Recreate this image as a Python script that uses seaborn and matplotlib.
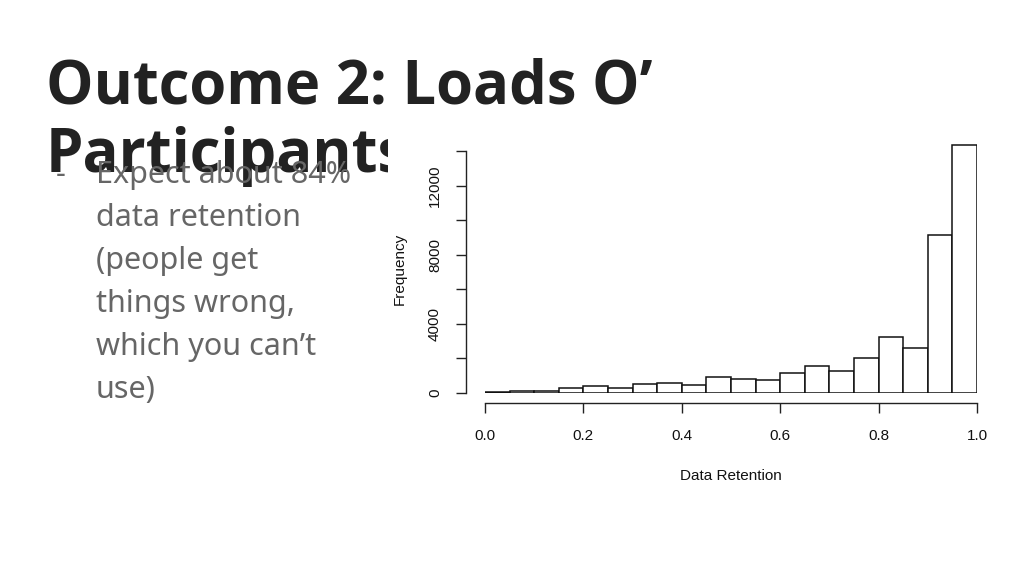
import numpy as np
import pandas as pd
import matplotlib
matplotlib.use("Agg")
import matplotlib.pyplot as plt
from matplotlib.patches import Rectangle
import seaborn as sns

# -----------------------------
# Data
# -----------------------------
bin_edges = [round(0.05 * i, 2) for i in range(21)]
bin_counts = [40, 115, 115, 270, 385, 270, 540, 595, 480, 920,
              825, 730, 1130, 1555, 1285, 2000, 3265, 2575, 9120, 14360]
y_ticks = [0, 2000, 4000, 6000, 8000, 10000, 12000, 14000]
y_tick_labels = ["0", "", "4000", "", "8000", "", "12000", ""]
x_ticks = [0.0, 0.2, 0.4, 0.6, 0.8, 1.0]
x_tick_labels = ["0.0", "0.2", "0.4", "0.6", "0.8", "1.0"]

title_lines = ["Outcome 2: Loads O\u2019", "Participants"]
bullet_lines = ["Expect about 84%", "data retention", "(people get",
                "things wrong,", "which you can\u2019t", "use)"]

W, H = 1024, 576

def fx(px):
    return px / W

def fy(py):
    return 1 - py / H

sns.set_style("ticks")
plt.rcParams['font.family'] = ['Liberation Sans', 'DejaVu Sans']

fig = plt.figure(figsize=(10.24, 5.76), dpi=100)
fig.patch.set_facecolor("white")

# -----------------------------
# Slide text
# -----------------------------
title_font = ['Open Sans', 'Noto Sans', 'DejaVu Sans']
body_font = ['Noto Sans', 'Open Sans', 'DejaVu Sans']

for i, line in enumerate(title_lines):
    fig.text(fx(46), fy(103 + 69 * i), line, fontsize=43, fontweight='bold',
             family=title_font, color='#222222',
             va='baseline', ha='left', zorder=1)

fig.text(fx(56), fy(183), "-", fontsize=22, family=body_font,
         color='#666666', va='baseline', zorder=4)
for i, line in enumerate(bullet_lines):
    fig.text(fx(96), fy(183 + 43 * i), line, fontsize=22,
             family=body_font, color='#666666',
             va='baseline', ha='left', zorder=4)

# white background of the pasted plot image
fig.patches.append(Rectangle((fx(388), fy(510)), fx(1010) - fx(388), fy(125) - fy(510),
                             transform=fig.transFigure, facecolor='white',
                             edgecolor='none', zorder=2))

# -----------------------------
# Histogram
# -----------------------------
ymax = 14400
px_per_unit = (393 - 151) / 14000
top_px = 393 - ymax * px_per_unit
ax = fig.add_axes([fx(485), fy(393), fx(977) - fx(485), fy(top_px) - fy(393)])
ax.set_zorder(3)
ax.patch.set_alpha(0)

hist_df = pd.DataFrame({
    "retention": [(a + b) / 2 for a, b in zip(bin_edges[:-1], bin_edges[1:])],
    "count": bin_counts,
})
sns.histplot(data=hist_df, x="retention", weights="count", bins=bin_edges, ax=ax,
             color='white', edgecolor='#111111', linewidth=1.1, alpha=1)

ax.set_xlim(0, 1)
ax.set_ylim(0, ymax)
sns.despine(ax=ax)
ax.spines['left'].set_position(('outward', 14))
ax.spines['bottom'].set_position(('outward', 7))
ax.spines['left'].set_bounds(0, 14000)
ax.spines['bottom'].set_bounds(0, 1)
for s in ['left', 'bottom']:
    ax.spines[s].set_color('#222222')
    ax.spines[s].set_linewidth(1.0)

ax.set_yticks(y_ticks)
ax.set_yticklabels(y_tick_labels, rotation=90, va='center')
ax.set_xticks(x_ticks)
ax.set_xticklabels(x_tick_labels)
ax.tick_params(axis='both', length=7, width=1.0, color='#222222',
               labelsize=11, labelcolor='#111111')
ax.tick_params(axis='x', pad=12)
ax.tick_params(axis='y', pad=10)

ax.set_xlabel("Data Retention", fontsize=11, labelpad=19, color='#111111')
ax.set_ylabel("Frequency", fontsize=11, labelpad=15, color='#111111')

fig.savefig("out.png", dpi=100, facecolor='white')
